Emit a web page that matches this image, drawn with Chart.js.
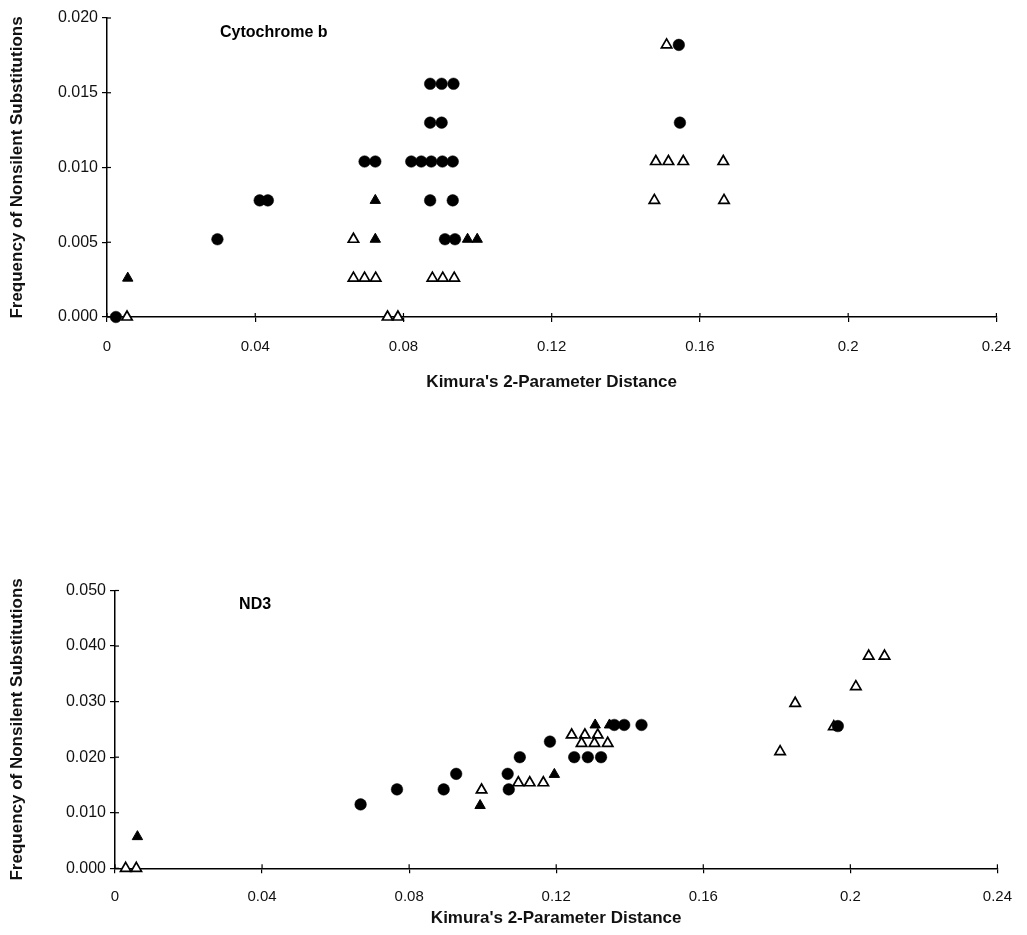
<!DOCTYPE html>
<html><head><meta charset="utf-8">
<script src="https://cdn.jsdelivr.net/npm/chart.js@4/dist/chart.umd.min.js"></script>
<style>
html,body{margin:0;padding:0;background:#fff;}
#wrap{position:relative;width:1027px;height:935px;overflow:hidden;background:#fff;}
canvas{position:absolute;left:0;}
</style></head><body>
<div id="wrap">
<canvas id="cyt" width="1027" height="400" style="top:0px"></canvas>
<canvas id="nd3" width="1027" height="395" style="top:540px"></canvas>
</div>
<script>
// ---------- tick labels ----------
const xTickLabels = ['0', '0.04', '0.08', '0.12', '0.16', '0.2', '0.24'];
const cytYTickLabels = ['0.000', '0.005', '0.010', '0.015', '0.020'];
const nd3YTickLabels = ['0.000', '0.010', '0.020', '0.030', '0.040', '0.050'];
const xTitle = "Kimura's 2-Parameter Distance";
const yTitle = 'Frequency of Nonsilent Substitutions';
const cytLabel = 'Cytochrome b';
const nd3Label = 'ND3';

// ---------- Cytochrome b ----------
const cytCircleX = [0.0024, 0.0298, 0.0412, 0.0434, 0.0695, 0.0724,
  0.0872, 0.0903, 0.0935, 0.0872, 0.0903,
  0.0821, 0.0848, 0.0875, 0.0905, 0.0933,
  0.0872, 0.0933, 0.0912, 0.0939, 0.1543, 0.1546];
const cytCircleY = [0.0000, 0.0052, 0.0078, 0.0078, 0.0104, 0.0104,
  0.0156, 0.0156, 0.0156, 0.0130, 0.0130,
  0.0104, 0.0104, 0.0104, 0.0104, 0.0104,
  0.0078, 0.0078, 0.0052, 0.0052, 0.0182, 0.0130];
const cytFilledTriX = [0.0056, 0.0724, 0.0724, 0.0973, 0.0999];
const cytFilledTriY = [0.0026, 0.0078, 0.0052, 0.0052, 0.0052];
const cytOpenTriX = [0.0054, 0.0665, 0.0665, 0.0695, 0.0725, 0.0757, 0.0785,
  0.0878, 0.0906, 0.0937, 0.1510, 0.1481, 0.1515, 0.1555, 0.1663, 0.1477, 0.1665];
const cytOpenTriY = [0.0000, 0.0052, 0.0026, 0.0026, 0.0026, 0.0000, 0.0000,
  0.0026, 0.0026, 0.0026, 0.0182, 0.0104, 0.0104, 0.0104, 0.0104, 0.0078, 0.0078];

// ---------- ND3 ----------
const nd3CircleX = [0.0668, 0.0767, 0.0894, 0.0928, 0.1068, 0.1071, 0.1101, 0.1183,
  0.1249, 0.1286, 0.1322, 0.1358, 0.1385, 0.1432, 0.1966];
const nd3CircleY = [0.0115, 0.0142, 0.0142, 0.0170, 0.0170, 0.0142, 0.0200, 0.0228,
  0.0200, 0.0200, 0.0200, 0.0258, 0.0258, 0.0258, 0.0256];
const nd3FilledTriX = [0.0061, 0.0993, 0.1195, 0.1306, 0.1345];
const nd3FilledTriY = [0.0057, 0.0113, 0.0169, 0.0258, 0.0258];
const nd3OpenTriX = [0.0029, 0.0058, 0.0997, 0.1097, 0.1128, 0.1165,
  0.1242, 0.1278, 0.1313, 0.1269, 0.1304, 0.1340,
  0.1809, 0.1850, 0.1955, 0.2015, 0.2050, 0.2093];
const nd3OpenTriY = [0.0000, 0.0000, 0.0141, 0.0154, 0.0154, 0.0154,
  0.0240, 0.0240, 0.0240, 0.0225, 0.0225, 0.0225,
  0.0210, 0.0297, 0.0255, 0.0327, 0.0382, 0.0382];

function pts(xs, ys) { return xs.map((x, i) => ({x: x, y: ys[i]})); }

const FONT = "'Liberation Sans', Arial, Helvetica, sans-serif";

const crossTicks = {
  id: 'crossTicks',
  beforeDatasetsDraw(chart) {
    const {ctx, chartArea, scales} = chart;
    const x = scales.x, y = scales.y;
    ctx.save();
    ctx.strokeStyle = '#000';
    ctx.lineWidth = 1.2;
    x.ticks.forEach((t, i) => {
      const px = x.getPixelForTick(i);
      ctx.beginPath(); ctx.moveTo(px, chartArea.bottom); ctx.lineTo(px, chartArea.bottom - 4); ctx.stroke();
    });
    y.ticks.forEach((t, i) => {
      const py = y.getPixelForTick(i);
      ctx.beginPath(); ctx.moveTo(chartArea.left, py); ctx.lineTo(chartArea.left + 4, py); ctx.stroke();
    });
    ctx.restore();
  },
  afterDraw(chart) {
    const o = chart.options.plugins.panelLabel;
    if (!o) return;
    const {ctx, scales} = chart;
    ctx.save();
    ctx.fillStyle = '#000';
    ctx.font = 'bold ' + o.size + 'px ' + FONT;
    ctx.textAlign = 'center';
    ctx.textBaseline = 'middle';
    ctx.fillText(o.text, scales.x.getPixelForValue(o.x), scales.y.getPixelForValue(o.y));
    ctx.restore();
  }
};

function makeChart(id, d, geo) {
  const base = {clip: false, showLine: false};
  return new Chart(document.getElementById(id), {
    type: 'scatter',
    data: {
      datasets: [
        Object.assign({label: 'circle', data: d.circle, pointStyle: 'circle', pointRadius: 5.8,
          backgroundColor: '#000', borderColor: '#000', borderWidth: 0.5}, base),
        Object.assign({label: 'filled', data: d.filled, pointStyle: 'triangle', pointRadius: 6,
          backgroundColor: '#000', borderColor: '#000', borderWidth: 1}, base),
        Object.assign({label: 'open', data: d.open, pointStyle: 'triangle', pointRadius: 6,
          backgroundColor: '#fff', borderColor: '#000', borderWidth: 1.7}, base)
      ]
    },
    options: {
      responsive: false,
      animation: false,
      devicePixelRatio: 1,
      layout: {padding: geo.padding},
      plugins: {
        legend: {display: false},
        tooltip: {enabled: false},
        panelLabel: d.label
      },
      scales: {
        x: {
          type: 'linear', min: 0, max: 0.24,
          afterFit: s => { s.height = geo.xHeight; },
          border: {display: true, color: '#000', width: 1.5},
          grid: {display: true, drawOnChartArea: false, drawTicks: true, tickLength: 5, color: '#000', lineWidth: 1.2},
          ticks: {stepSize: 0.04, color: '#111', padding: geo.xTickPad, maxRotation: 0, autoSkip: false,
            font: {family: FONT, size: 15},
            callback: (v, i) => xTickLabels[i]},
          title: {display: true, text: xTitle, color: '#111',
            font: {family: FONT, size: 17, weight: 'bold'}, padding: {top: 0, bottom: geo.xTitlePad}}
        },
        y: {
          type: 'linear', min: 0, max: d.yMax,
          afterFit: s => { s.width = geo.yWidth; },
          border: {display: true, color: '#000', width: 1.5},
          grid: {display: true, drawOnChartArea: false, drawTicks: true, tickLength: 5, color: '#000', lineWidth: 1.2},
          ticks: {stepSize: d.yStep, color: '#111', padding: 4,
            font: {family: FONT, size: 16},
            callback: (v, i) => d.yLabels[i]},
          title: {display: true, text: yTitle, color: '#111',
            font: {family: FONT, size: 17, weight: 'bold'}, padding: {top: 7, bottom: 0}}
        }
      }
    },
    plugins: [crossTicks]
  });
}

makeChart('cyt', {
  circle: pts(cytCircleX, cytCircleY),
  filled: pts(cytFilledTriX, cytFilledTriY),
  open: pts(cytOpenTriX, cytOpenTriY),
  yMax: 0.02, yStep: 0.005, yLabels: cytYTickLabels,
  label: {text: cytLabel, x: 0.045, y: 0.0190, size: 16}
}, {padding: {left: 0, right: 30, top: 18, bottom: 0}, yWidth: 107, xHeight: 83, xTickPad: 16, xTitlePad: 7});

makeChart('nd3', {
  circle: pts(nd3CircleX, nd3CircleY),
  filled: pts(nd3FilledTriX, nd3FilledTriY),
  open: pts(nd3OpenTriX, nd3OpenTriY),
  yMax: 0.05, yStep: 0.01, yLabels: nd3YTickLabels,
  label: {text: nd3Label, x: 0.0381, y: 0.0475, size: 16}
}, {padding: {left: 0, right: 21, top: 50.5, bottom: 0}, yWidth: 115, xHeight: 66.7, xTickPad: 15, xTitlePad: 6});
</script>
</body></html>
